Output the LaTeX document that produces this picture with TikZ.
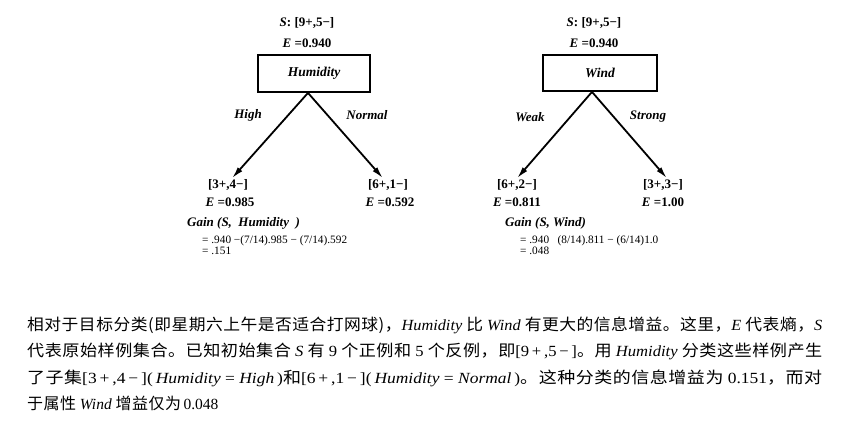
\documentclass[tikz,border=0pt]{standalone}
\usepackage{fontspec}
\usepackage{graphicx}
\setmainfont{Liberation Serif}
\newfontfamily\cjk[LetterSpace=3,Scale=1.03]{Noto Sans CJK SC}
\newcommand\zhtxt[1]{{\cjk #1}}
\usetikzlibrary{arrows.meta}
\tikzset{
  toplbl/.style={inner sep=0pt, font=\fontsize{13}{13}\selectfont\bfseries},
  attrbox/.style={draw, line width=1.8pt, inner sep=0pt, font=\fontsize{13.5}{13.5}\selectfont\bfseries\itshape},
  edgelbl/.style={inner sep=0pt, font=\fontsize{13}{13}\selectfont\bfseries\itshape},
  leaflbl/.style={inner sep=0pt, font=\fontsize{13}{13}\selectfont\bfseries},
  gainlbl/.style={anchor=west, inner sep=0pt, font=\fontsize{13}{13}\selectfont\bfseries\itshape},
  eqlbl/.style={anchor=west, inner sep=0pt, font=\fontsize{11.3}{11.3}\selectfont},
  branch/.style={line width=1.8pt, -{Latex[length=12pt,width=6pt]}},
  paraline/.style={anchor=base west, inner sep=0pt, font=\fontsize{15.5}{16}\selectfont}
}
\begin{document}
\begin{tikzpicture}[x=1pt,y=-1pt]
\useasboundingbox[fill=white] (0,0) rectangle (863,429);

% ---- Humidity tree ----
\node[toplbl] (hs) at (307,23) {\textit{S}: [9+,5−]};
\node[toplbl] (he) at (307,43) {\textit{E} =0.940};
\node[attrbox, minimum width=112pt, minimum height=37pt] (hum) at (314,73.5) {Humidity};
\node[leaflbl] (h1) at (228,185) {[3+,4−]};
\node[leaflbl] (h1e) at (230,202) {\textit{E} =0.985};
\node[leaflbl] (h2) at (388,185) {[6+,1−]};
\node[leaflbl] (h2e) at (390,202) {\textit{E} =0.592};
\draw[branch] ([xshift=-6pt]hum.south) -- ([xshift=4pt,yshift=1pt]h1.north);
\draw[branch] ([xshift=-6pt]hum.south) -- ([xshift=-5pt,yshift=1pt]h2.north);
\node[edgelbl] (hhigh) at (248,115) {High};
\node[edgelbl] (hnorm) at (367,115) {Normal};
\node[gainlbl] (hg) at (187,223) {Gain (S,\ \ Humidity\ \ )};
\node[eqlbl] (hg1) at (202,241) {= .940 −(7/14).985 − (7/14).592};
\node[eqlbl] (hg2) at (202,251) {= .151};

% ---- Wind tree ----
\node[toplbl] (ws) at (594,23) {\textit{S}: [9+,5−]};
\node[toplbl] (we) at (594,43) {\textit{E} =0.940};
\node[attrbox, minimum width=114pt, minimum height=36pt] (wind) at (600,73) {Wind};
\node[leaflbl] (w1) at (517,185) {[6+,2−]};
\node[leaflbl] (w1e) at (517,202) {\textit{E} =0.811};
\node[leaflbl] (w2) at (663,185) {[3+,3−]};
\node[leaflbl] (w2e) at (663,202) {\textit{E} =1.00};
\draw[branch] ([xshift=-8pt]wind.south) -- ([xshift=0pt,yshift=1pt]w1.north);
\draw[branch] ([xshift=-8pt]wind.south) -- ([xshift=4pt,yshift=1pt]w2.north);
\node[edgelbl] (wweak) at (530,117) {Weak};
\node[edgelbl] (wstrong) at (648,117) {Strong};
\node[gainlbl] (wg) at (505,223) {Gain (S, Wind)};
\node[eqlbl] (wg1) at (520,241) {= .940\ \ \ (8/14).811 − (6/14)1.0};
\node[eqlbl] (wg2) at (520,251) {= .048};

% ---- paragraph ----
\node[paraline] (p1) at (27,330) {\resizebox{795pt}{\height}{\zhtxt{相对于目标分类(即星期六上午是否适合打网球)，}\textit{Humidity} \zhtxt{比} \textit{Wind} \zhtxt{有更大的信息增益。这里，}\textit{E} \zhtxt{代表熵，}\textit{S}}};
\node[paraline] (p2) at (27,356) {\resizebox{795pt}{\height}{\zhtxt{代表原始样例集合。已知初始集合} \textit{S} \zhtxt{有} 9 \zhtxt{个正例和} 5 \zhtxt{个反例，即}[9\,+\,,5\,−\,]\zhtxt{。用} \textit{Humidity} \zhtxt{分类这些样例产生}}};
\node[paraline] (p3) at (27,383) {\resizebox{795pt}{\height}{\zhtxt{了子集}[3\,+\,,4\,−\,](\,\textit{Humidity} = \textit{High}\,)\zhtxt{和}[6\,+\,,1\,−\,](\,\textit{Humidity} = \textit{Normal}\,)\zhtxt{。这种分类的信息增益为} 0.151\zhtxt{，而对}}};
\node[paraline] (p4) at (27,409) {\zhtxt{于属性} \textit{Wind} \zhtxt{增益仅为}\,0.048};
\end{tikzpicture}
\end{document}
